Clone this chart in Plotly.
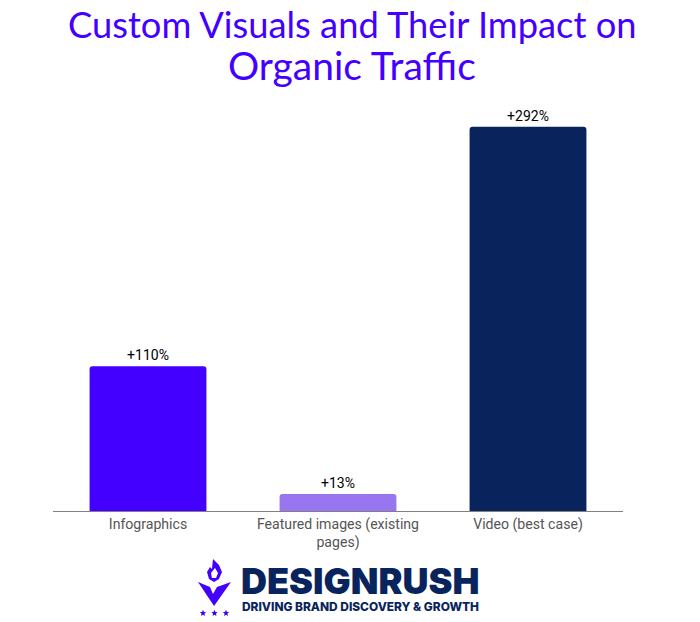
import plotly.graph_objects as go

categories = ["Infographics", "Featured images (existing<br>pages)", "Video (best case)"]
values = [110, 13, 292]
value_labels = ["+110%", "+13%", "+292%"]
bar_colors = ["#4400FF", "#9776F0", "#09245C"]

W, H = 700, 622
L, R, T, B = 53, 77, 90, 111


# logo and title are placed in page pixels, these turn them into paper coordinates
def px(x):
    return (x - L) / (W - L - R)


def py(y):
    return (H - B - y) / (H - T - B)


def logo_path(points):
    parts = []
    for cmd, x, y in points:
        parts.append(f"{cmd}{px(x):.4f},{py(y):.4f}")
    return " ".join(parts) + " Z"


def star(cx, cy, r=3.2):
    pts = [(-0.95, -0.3), (-0.3, -0.3), (0, -1), (0.3, -0.3), (0.95, -0.3),
           (0.45, 0.2), (0.62, 0.95), (0, 0.52), (-0.62, 0.95), (-0.45, 0.2)]
    return logo_path([("M" if i == 0 else "L", cx + a * r, cy + b * r) for i, (a, b) in enumerate(pts)])


fig = go.Figure(go.Bar(
    x=categories,
    y=values,
    marker=dict(color=bar_colors, line=dict(width=0)),
    text=value_labels,
    textposition="outside",
    textfont=dict(family="Roboto", size=14, color="#000000"),
    cliponaxis=False,
    hoverinfo="skip",
))

logo_shapes = [
    # wings / V
    [("M", 198, 582), ("L", 210, 587), ("L", 213, 594), ("L", 217, 587), ("L", 231, 582), ("L", 214, 606)],
    # flame outer
    [("M", 213, 559), ("L", 219, 565), ("L", 222, 572), ("L", 219, 579), ("L", 214, 582),
     ("L", 209, 579), ("L", 207, 572), ("L", 210, 567), ("L", 212, 569)],
]
shapes = [dict(type="path", xref="paper", yref="paper", path=logo_path(p),
               fillcolor="#4400FF", line=dict(width=0)) for p in logo_shapes]
# flame inner hole
shapes.append(dict(type="path", xref="paper", yref="paper",
                   path=logo_path([("M", 215, 568), ("L", 218, 573), ("L", 216, 578), ("L", 212, 578), ("L", 211, 573)]),
                   fillcolor="#FFFFFF", line=dict(width=0)))
for sx in [203, 214.5, 226]:
    shapes.append(dict(type="path", xref="paper", yref="paper", path=star(sx, 613),
                       fillcolor="#4400FF", line=dict(width=0)))

fig.update_layout(
    width=W,
    height=H,
    margin=dict(l=L, r=R, t=T, b=B),
    paper_bgcolor="#FFFFFF",
    plot_bgcolor="#FFFFFF",
    showlegend=False,
    bargap=0.385,
    barcornerradius=3,
    xaxis=dict(
        showline=True, linecolor="#808080", linewidth=1, ticks="",
        tickfont=dict(family="Roboto", size=14.1, color="#555555"),
        fixedrange=True,
    ),
    yaxis=dict(range=[0, 320], visible=False, fixedrange=True),
    shapes=shapes,
    annotations=[
        dict(text="Custom Visuals and Their Impact on", xref="paper", yref="paper", x=px(352.5), y=py(24),
             xanchor="center", yanchor="middle", showarrow=False,
             font=dict(family="Lato", size=36.3, color="#4400FF")),
        dict(text="Organic Traffic", xref="paper", yref="paper", x=px(352), y=py(65.5),
             xanchor="center", yanchor="middle", showarrow=False,
             font=dict(family="Lato", size=39, color="#4400FF")),
        dict(text="DESIGNRUSH", xref="paper", yref="paper", x=px(360), y=py(581),
             xanchor="center", yanchor="middle", showarrow=False,
             font=dict(family="Inter", size=36, color="#09245C", weight=900)),
        dict(text="DRIVING BRAND DISCOVERY &amp; GROWTH", xref="paper", yref="paper", x=px(360), y=py(606),
             xanchor="center", yanchor="middle", showarrow=False,
             font=dict(family="Inter", size=11.9, color="#09245C", weight=800)),
    ],
)

# no page margin, and no ffi ligature in the title
fig.write_html("out.html", config=dict(displayModeBar=False),
               post_script="document.body.style.margin='0';"
                           "var s=document.createElement('style');"
                           "s.textContent='text{font-variant-ligatures:none}';"
                           "document.head.appendChild(s);")
